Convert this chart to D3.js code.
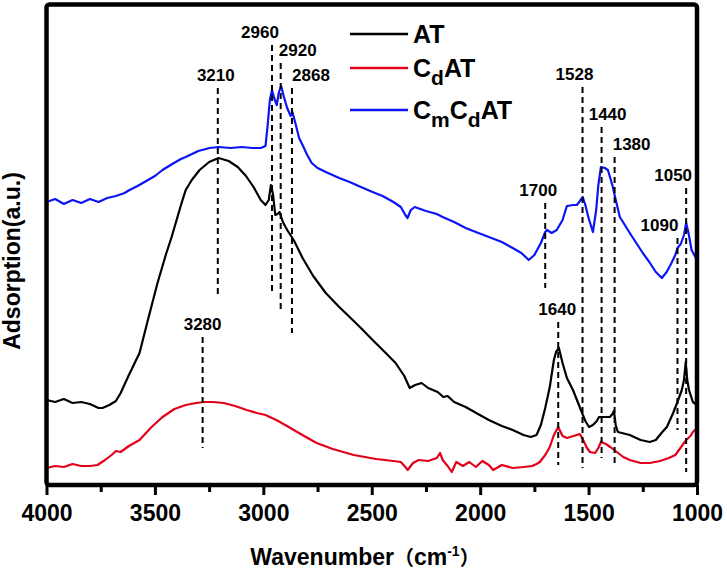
<!DOCTYPE html>
<html>
<head>
<meta charset="utf-8">
<script src="https://cdn.jsdelivr.net/npm/d3@7"></script>
<style>
  html, body { margin: 0; padding: 0; background: #fff; }
  svg { display: block; }
  text { font-family: "Liberation Sans", Arial, "Noto Sans CJK SC", sans-serif; font-weight: bold; fill: #000; }
</style>
</head>
<body>
<svg id="chart" width="727" height="573"></svg>
<script>
// ---------------- DATA ----------------
const xTicks = [4000, 3500, 3000, 2500, 2000, 1500, 1000];
const xMinorTicks = [3750, 3250, 2750, 2250, 1750, 1250];

const seriesNames = ["AT", "CdAT", "CmCdAT"];

// [wavenumber, absorbance (a.u.)]
const AT = [
  [4000,0.87],[3960,0.85],[3920,0.88],[3880,0.84],[3840,0.85],[3800,0.83],[3760,0.79],[3742,0.79],
  [3710,0.82],[3680,0.86],[3658,0.94],[3620,1.12],[3571,1.34],[3530,1.69],[3488,2.04],[3450,2.32],
  [3423,2.50],[3400,2.67],[3377,2.84],[3358,2.97],[3330,3.07],[3294,3.17],[3250,3.25],[3206,3.29],
  [3160,3.26],[3118,3.20],[3080,3.11],[3045,3.00],[3012,2.87],[2990,2.82],[2975,2.87],[2965,3.02],
  [2955,2.92],[2945,2.72],[2935,2.73],[2925,2.75],[2910,2.65],[2890,2.57],[2860,2.47],[2819,2.29],
  [2770,2.11],[2712,1.94],[2650,1.80],[2602,1.70],[2550,1.59],[2496,1.47],[2440,1.35],[2390,1.24],
  [2350,1.11],[2325,0.99],[2300,1.02],[2270,1.04],[2240,0.99],[2196,0.95],[2170,0.90],[2150,0.91],
  [2120,0.85],[2067,0.80],[2010,0.73],[1960,0.67],[1900,0.61],[1850,0.57],[1800,0.52],[1766,0.50],
  [1740,0.52],[1720,0.62],[1700,0.79],[1679,1.00],[1660,1.27],[1650,1.35],[1637,1.39],[1620,1.24],
  [1600,1.09],[1572,0.97],[1550,0.85],[1530,0.74],[1515,0.66],[1498,0.60],[1480,0.62],[1462,0.66],
  [1452,0.70],[1420,0.70],[1402,0.70],[1390,0.73],[1383,0.76],[1375,0.62],[1365,0.55],[1310,0.52],
  [1260,0.47],[1218,0.45],[1190,0.47],[1160,0.55],[1139,0.60],[1110,0.74],[1092,0.84],[1070,0.97],
  [1060,1.07],[1052,1.25],[1045,1.07],[1037,0.97],[1019,0.85],[1000,0.82]
];

const CdAT = [
  [4000,0.19],[3960,0.21],[3920,0.20],[3880,0.23],[3840,0.21],[3800,0.21],[3765,0.22],[3730,0.27],
  [3700,0.32],[3680,0.36],[3658,0.35],[3620,0.41],[3571,0.47],[3520,0.59],[3465,0.70],[3410,0.78],
  [3358,0.82],[3310,0.84],[3271,0.85],[3230,0.85],[3183,0.84],[3130,0.81],[3077,0.77],[3030,0.74],
  [2990,0.72],[2940,0.67],[2883,0.60],[2820,0.52],[2754,0.44],[2680,0.38],[2583,0.32],[2480,0.28],
  [2400,0.26],[2366,0.25],[2345,0.20],[2334,0.17],[2310,0.24],[2283,0.27],[2240,0.26],[2200,0.29],
  [2185,0.34],[2173,0.27],[2150,0.21],[2131,0.15],[2110,0.25],[2080,0.21],[2050,0.25],[2020,0.20],
  [1990,0.26],[1960,0.22],[1940,0.17],[1900,0.22],[1850,0.19],[1800,0.20],[1760,0.21],[1740,0.23],
  [1725,0.25],[1700,0.32],[1679,0.40],[1660,0.52],[1640,0.60],[1620,0.51],[1600,0.49],[1570,0.51],
  [1540,0.53],[1525,0.47],[1510,0.40],[1494,0.35],[1470,0.34],[1455,0.39],[1443,0.45],[1420,0.43],
  [1400,0.40],[1370,0.35],[1340,0.30],[1310,0.27],[1260,0.24],[1218,0.24],[1170,0.26],[1130,0.29],
  [1100,0.32],[1070,0.41],[1050,0.47],[1030,0.51],[1019,0.55],[1000,0.59]
];

const CmCdAT = [
  [4000,2.85],[3960,2.88],[3920,2.83],[3880,2.87],[3840,2.84],[3800,2.88],[3760,2.85],[3720,2.89],
  [3680,2.91],[3640,2.94],[3617,2.97],[3580,3.01],[3540,3.06],[3500,3.11],[3465,3.17],[3420,3.23],
  [3380,3.28],[3358,3.30],[3300,3.36],[3248,3.39],[3206,3.40],[3150,3.39],[3100,3.40],[3050,3.39],
  [3012,3.39],[2990,3.41],[2980,3.62],[2970,3.87],[2960,3.97],[2950,3.89],[2938,3.82],[2928,3.95],
  [2918,4.01],[2905,3.90],[2890,3.79],[2874,3.71],[2866,3.75],[2850,3.62],[2835,3.49],[2819,3.42],
  [2800,3.33],[2777,3.24],[2750,3.19],[2712,3.15],[2650,3.09],[2602,3.05],[2550,3.00],[2496,2.95],
  [2450,2.91],[2400,2.85],[2366,2.80],[2345,2.72],[2335,2.69],[2320,2.77],[2302,2.80],[2250,2.76],
  [2200,2.73],[2173,2.70],[2120,2.65],[2067,2.59],[2020,2.55],[1960,2.50],[1900,2.45],[1850,2.39],
  [1810,2.34],[1776,2.27],[1750,2.32],[1720,2.44],[1700,2.55],[1692,2.57],[1670,2.54],[1647,2.57],
  [1620,2.67],[1600,2.81],[1570,2.82],[1554,2.82],[1540,2.86],[1527,2.90],[1515,2.82],[1500,2.69],
  [1480,2.55],[1465,2.77],[1455,3.02],[1443,3.20],[1425,3.19],[1411,3.17],[1400,3.09],[1388,3.00],
  [1380,2.92],[1356,2.70],[1330,2.61],[1310,2.54],[1280,2.44],[1250,2.34],[1220,2.25],[1190,2.15],
  [1162,2.09],[1140,2.15],[1120,2.23],[1100,2.32],[1090,2.39],[1075,2.43],[1060,2.52],[1050,2.64],
  [1040,2.55],[1025,2.37],[1010,2.31],[1000,2.27]
];

// peak annotations: label, wavenumber, dashed line top / bottom (a.u.)
const peakLabels = ["3210","2960","2920","2868","1700","1528","1440","1380","1090","1050","1640","3280"];
const peakWn     = [3210, 2960, 2920, 2868, 1700, 1528, 1440, 1380, 1090, 1050, 1640, 3280];
const peakTop    = [3.99, 4.42, 4.24, 3.99, 2.84, 4.00, 3.60, 3.30, 2.49, 2.99, 1.65, 1.50];
const peakBottom = [1.92, 1.94, 1.74, 1.54, 1.99, 0.19, 0.29, 0.20, 0.57, 0.15, 0.22, 0.39];

// ---------------- LAYOUT / STYLE ----------------
const labelShift = {"3210": -2, "2960": -12, "2920": 17, "2868": 19, "1700": -7, "1528": -8,
                    "1440": 6, "1380": 17, "1090": -18, "1050": -13, "1640": -1, "3280": 0};
const colors = {AT: "#000000", CdAT: "#e2001a", CmCdAT: "#0a14f5"};

const svg = d3.select("#chart");
const frame = {left: 46.5, right: 697, top: 4.5, bottom: 485};

const x = d3.scaleLinear().domain([4000, 1000]).range([frame.left, frame.right]);
const y = d3.scaleLinear().domain([0.02, 4.825]).range([frame.bottom, frame.top]);

const line = d3.line().x(d => x(d[0])).y(d => y(d[1])).curve(d3.curveLinear);

const plot = svg.append("g");

// curves
[[AT, "AT"], [CdAT, "CdAT"], [CmCdAT, "CmCdAT"]].forEach(([data, name]) => {
  plot.append("path")
    .datum(data)
    .attr("d", line)
    .attr("fill", "none")
    .attr("stroke", colors[name])
    .attr("stroke-width", 2.2)
    .attr("stroke-linejoin", "round");
});

// dashed peak lines + labels
peakLabels.forEach((lab, i) => {
  const px = x(peakWn[i]);
  plot.append("line")
    .attr("x1", px).attr("x2", px)
    .attr("y1", y(peakTop[i])).attr("y2", y(peakBottom[i]))
    .attr("stroke", "#000").attr("stroke-width", 2)
    .attr("stroke-dasharray", "6,4");
  plot.append("text")
    .attr("x", px + labelShift[lab])
    .attr("y", y(peakTop[i]) - 7)
    .attr("text-anchor", "middle")
    .attr("font-size", 17)
    .text(lab);
});

// frame
svg.append("rect")
  .attr("x", frame.left).attr("y", frame.top)
  .attr("width", frame.right - frame.left).attr("height", frame.bottom - frame.top)
  .attr("rx", 3)
  .attr("fill", "none").attr("stroke", "#000").attr("stroke-width", 4.5)
  .attr("stroke-linejoin", "round");

// x axis ticks
const axisMajor = svg.append("g").attr("transform", `translate(0,${frame.bottom})`)
  .call(d3.axisBottom(x).tickValues(xTicks).tickSize(10).tickPadding(10).tickFormat(d3.format("d")));
axisMajor.select(".domain").remove();
axisMajor.selectAll(".tick line").attr("stroke", "#000").attr("stroke-width", 3);
axisMajor.selectAll(".tick text")
  .attr("font-size", 23).attr("font-family", "Liberation Sans, Arial, sans-serif")
  .attr("font-weight", "bold").attr("fill", "#000");

const axisMinor = svg.append("g").attr("transform", `translate(0,${frame.bottom})`)
  .call(d3.axisBottom(x).tickValues(xMinorTicks).tickSize(7).tickFormat(""));
axisMinor.select(".domain").remove();
axisMinor.selectAll(".tick line").attr("stroke", "#000").attr("stroke-width", 3);

// axis titles
const xt = svg.append("text")
  .attr("x", 365).attr("y", 565)
  .attr("text-anchor", "middle")
  .attr("font-size", 23);
xt.append("tspan").text("Wavenumber");
xt.append("tspan").attr("font-family", "Noto Sans CJK SC").attr("font-size", 20).text("（");
xt.append("tspan").text("cm");
xt.append("tspan").attr("font-size", 14).attr("dy", -9).text("-1");
xt.append("tspan").attr("dy", 9).attr("font-family", "Noto Sans CJK SC").attr("font-size", 20).text("）");

svg.append("text")
  .attr("transform", "translate(20,261) rotate(-90)")
  .attr("text-anchor", "middle")
  .attr("font-size", 23)
  .text("Adsorption(a.u.)");

// legend
const legendRows = [
  {name: "AT", y: 34, parts: [["AT", 0]]},
  {name: "CdAT", y: 68, parts: [["C", 0], ["d", 1], ["AT", 0]]},
  {name: "CmCdAT", y: 110, parts: [["C", 0], ["m", 1], ["C", 0], ["d", 1], ["AT", 0]]}
];
legendRows.forEach(r => {
  svg.append("line")
    .attr("x1", 350).attr("x2", 408)
    .attr("y1", r.y).attr("y2", r.y)
    .attr("stroke", colors[r.name]).attr("stroke-width", 2.5);
  const t = svg.append("text").attr("x", 413).attr("y", r.y + 9).attr("font-size", 25);
  let prevSub = false;
  r.parts.forEach(([s, sub]) => {
    const ts = t.append("tspan").text(s);
    if (sub && !prevSub) ts.attr("dy", 8).attr("font-size", 21);
    else if (!sub && prevSub) ts.attr("dy", -8);
    prevSub = !!sub;
  });
});
</script>
</body>
</html>
